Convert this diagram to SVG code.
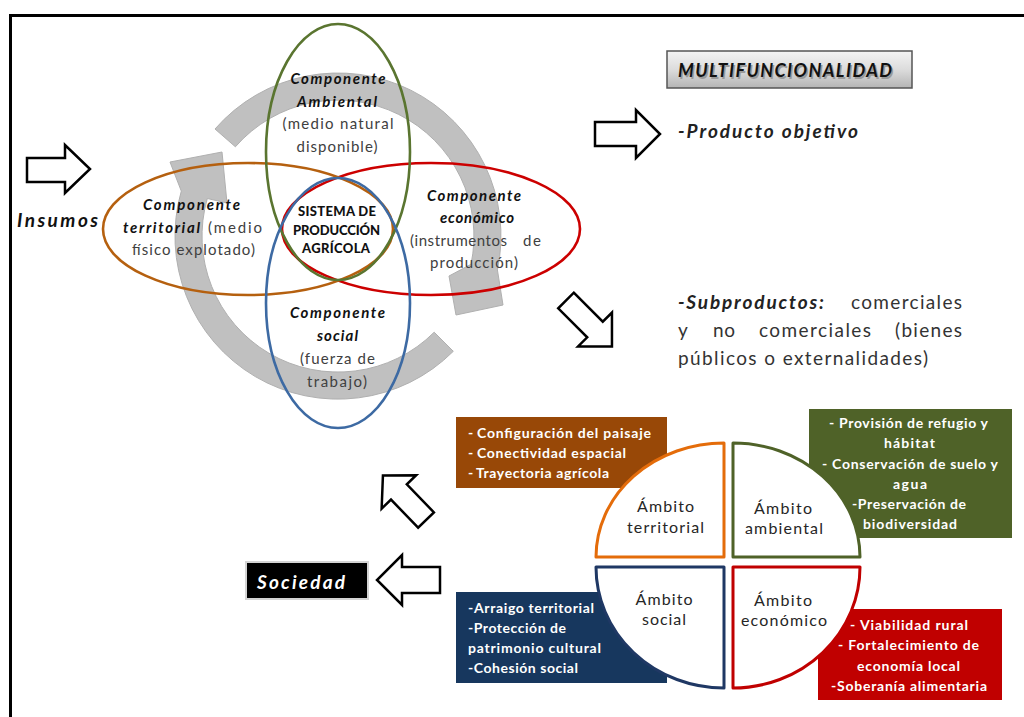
<svg xmlns="http://www.w3.org/2000/svg" width="1024" height="717" viewBox="0 0 1024 717">
<defs>
<linearGradient id="gBox" x1="0" y1="0" x2="0" y2="1">
<stop offset="0" stop-color="#f4f4f4"/>
<stop offset="0.5" stop-color="#dcdcdc"/>
<stop offset="1" stop-color="#b4b4b4"/>
</linearGradient>
<style>
text{font-family:Lato,"Liberation Sans",sans-serif}
.bi{font-weight:bold;font-style:italic;fill:#111}
.par{fill:#404040;font-size:15px}
.cmp{font-size:15px}
.ctr{text-anchor:middle}
.cen{font-weight:900;font-size:13px;fill:#111;text-anchor:middle}
.arw{fill:#fff;stroke:#000;stroke-width:2.5;stroke-linejoin:miter}
.ell{fill:none;stroke-width:2.6}
.gray{fill:#c0c0c0;stroke:#b0b0b0;stroke-width:1}
.sub{font-size:19px;fill:#333}
.wb{font-weight:bold;font-size:14px;fill:#fff}
.amb{font-size:16px;fill:#262626;text-anchor:middle}
.q{fill:#fff;stroke-width:3;stroke-linejoin:round}
</style>
</defs>
<rect x="0" y="0" width="1024" height="717" fill="#fff"/>
<rect id="frame" x="10.5" y="15.5" width="1100" height="800" fill="none" stroke="#000" stroke-width="3"/>

<g id="cycle">
<path class="gray" d="M215,129 A163,163 0 0 1 497.4,269.9 L503,305 L456,315 L449,276 L471,264.3 A136,136 0 0 0 235.4,146.8 Z"/>
<path class="gray" d="M453.3,351.3 A163,163 0 0 1 181.3,191.1 L170,162 L222,152 L227,203 L207.3,198.5 A136,136 0 0 0 434.2,332.2 Z"/>
</g>

<g id="ellipses">
<ellipse class="ell" cx="431" cy="229" rx="149" ry="66" stroke="#cc0000"/>
<ellipse class="ell" cx="248" cy="229" rx="145" ry="66" stroke="#b5600f"/>
<ellipse class="ell" cx="338" cy="152" rx="72" ry="128" stroke="#5a7530"/>
<ellipse class="ell" cx="338" cy="303" rx="72" ry="125" stroke="#3d6aa3"/>
</g>

<g id="comp-ambiental">
<text class="bi cmp ctr" x="338" y="84" textLength="95">Componente</text>
<text class="bi cmp ctr" x="337" y="107" textLength="80">Ambiental</text>
<text class="par ctr" x="338" y="129" textLength="111">(medio natural</text>
<text class="par ctr" x="337" y="152" textLength="81">disponible)</text>
</g>
<g id="comp-territorial">
<text class="bi cmp ctr" x="191.5" y="210" textLength="97">Componente</text>
<text class="bi cmp" x="123" y="233" textLength="77">territorial</text>
<text class="par" x="208" y="233" textLength="54">(medio</text>
<text class="par ctr" x="193.5" y="255" textLength="123">físico explotado)</text>
</g>
<g id="comp-economico">
<text class="bi cmp ctr" x="474" y="201" textLength="94">Componente</text>
<text class="bi cmp ctr" x="477" y="223" textLength="74">económico</text>
<text class="par" x="410" y="246" textLength="97">(instrumentos</text>
<text class="par" x="523" y="246" textLength="18">de</text>
<text class="par ctr" x="474" y="268" textLength="88">producción)</text>
</g>
<g id="comp-social">
<text class="bi cmp ctr" x="337.5" y="318" textLength="95">Componente</text>
<text class="bi cmp ctr" x="337.5" y="341" textLength="41">social</text>
<text class="par ctr" x="337.5" y="364" textLength="75">(fuerza de</text>
<text class="par ctr" x="337" y="387" textLength="60">trabajo)</text>
</g>
<g id="sistema">
<text class="cen" x="337" y="216" textLength="78">SISTEMA DE</text>
<text class="cen" x="336.5" y="235" textLength="87">PRODUCCIÓN</text>
<text class="cen" x="336" y="253" textLength="68">AGRÍCOLA</text>
</g>

<g id="insumos">
<text class="bi" x="17" y="227" font-size="19" textLength="81">Insumos</text>
</g>

<g id="multifuncionalidad">
<rect x="667" y="51" width="245" height="37" fill="url(#gBox)" stroke="#555" stroke-width="1.5"/>
<text class="bi" x="679.5" y="78.5" font-size="18" textLength="214" style="fill:#9a9a9a">MULTIFUNCIONALIDAD</text>
<text class="bi" x="678" y="77" font-size="18" textLength="214">MULTIFUNCIONALIDAD</text>
</g>

<g id="producto">
<text class="bi" x="678" y="138" font-size="19" textLength="180" style="fill:#222">-Producto objetivo</text>
</g>

<g id="subproductos">
<text class="bi" x="678" y="309" font-size="19" textLength="146" style="fill:#222">-Subproductos:</text>
<text class="sub" x="851" y="309" textLength="111">comerciales</text>
<text class="sub" x="678" y="337">y</text>
<text class="sub" x="713" y="337" textLength="22">no</text>
<text class="sub" x="759" y="337" textLength="112">comerciales</text>
<text class="sub" x="895" y="337" textLength="67">(bienes</text>
<text class="sub" x="678" y="365" textLength="250">públicos o externalidades)</text>
</g>

<g id="sociedad">
<rect x="246" y="562" width="122" height="37" fill="#000" stroke="#d4d4d4" stroke-width="2"/>
<text class="bi" x="257" y="589" font-size="19" textLength="88" style="fill:#fff">Sociedad</text>
</g>

<g id="connectors">
<polygon class="arw" points="27,158 65,158 65,145 90,169 65,193 65,182 27,182"/>
<polygon class="arw" points="595,122 636,122 636,110 660,134 636,158 636,146 595,146"/>
<polygon class="arw" transform="translate(566,300.5) rotate(45)" points="0,-11 41,-11 41,-24 65,0 41,24 41,11 0,11"/>
<polygon class="arw" transform="translate(426,520) rotate(226)" points="0,-11 39,-11 39,-24 62,0 39,24 39,11 0,11"/>
<polygon class="arw" points="440,567 402,567 402,555 377,580 402,605 402,593 440,593"/>
</g>

<g id="box-territorial">
<rect x="456" y="417" width="211" height="71" fill="#984807"/>
<text class="wb" x="468" y="438">-</text>
<text class="wb" x="477" y="438" textLength="174">Configuración del paisaje</text>
<text class="wb" x="468" y="458">-</text>
<text class="wb" x="477" y="458" textLength="149">Conectividad espacial</text>
<text class="wb" x="468" y="478">-</text>
<text class="wb" x="476" y="478" textLength="133">Trayectoria agrícola</text>
</g>
<g id="box-ambiental">
<rect x="809" y="409" width="203" height="129" fill="#4f6228"/>
<text class="wb ctr" x="908.5" y="428" textLength="159">-  Provisión de refugio y</text>
<text class="wb ctr" x="909.5" y="448" textLength="51">hábitat</text>
<text class="wb ctr" x="910" y="469" textLength="176">-  Conservación de suelo y</text>
<text class="wb ctr" x="910" y="489" textLength="34">agua</text>
<text class="wb ctr" x="909" y="509" textLength="114">-Preservación de</text>
<text class="wb ctr" x="910" y="529" textLength="94">biodiversidad</text>
</g>
<g id="box-social">
<rect x="456" y="592" width="211" height="91" fill="#17375e"/>
<text class="wb" x="468" y="613">-</text>
<text class="wb" x="474" y="613" textLength="120">Arraigo territorial</text>
<text class="wb" x="468" y="633" textLength="98">-Protección de</text>
<text class="wb" x="468" y="653" textLength="133">patrimonio cultural</text>
<text class="wb" x="468" y="673" textLength="110">-Cohesión social</text>
</g>
<g id="box-economico">
<rect x="818" y="609" width="184" height="91" fill="#c00000"/>
<text class="wb ctr" x="909" y="630" textLength="118">-  Viabilidad  rural</text>
<text class="wb ctr" x="908.5" y="650" textLength="141">-  Fortalecimiento de</text>
<text class="wb ctr" x="908.5" y="671" textLength="103">economía local</text>
<text class="wb ctr" x="909" y="691" textLength="156">-Soberanía alimentaria</text>
</g>

<g id="ambito-territorial">
<path class="q" stroke="#e46c0a" d="M724,557 L596,557 A128,114 0 0 1 724,443 Z"/>
<text class="amb" x="665.5" y="512" textLength="57">Ámbito</text>
<text class="amb" x="665.5" y="533" textLength="77">territorial</text>
</g>
<g id="ambito-ambiental">
<path class="q" stroke="#4f6228" d="M733,557 L733,443 A127,114 0 0 1 860,557 Z"/>
<text class="amb" x="783" y="514" textLength="58">Ámbito</text>
<text class="amb" x="784" y="534" textLength="78">ambiental</text>
</g>
<g id="ambito-social">
<path class="q" stroke="#1f3864" d="M724,567 L724,688 A128,121 0 0 1 596,567 Z"/>
<text class="amb" x="664" y="605" textLength="57">Ámbito</text>
<text class="amb" x="664" y="625" textLength="44">social</text>
</g>
<g id="ambito-economico">
<path class="q" stroke="#c00000" d="M733,567 L860,567 A127,121 0 0 1 733,688 Z"/>
<text class="amb" x="783" y="606" textLength="58">Ámbito</text>
<text class="amb" x="784" y="626" textLength="86">económico</text>
</g>
</svg>
